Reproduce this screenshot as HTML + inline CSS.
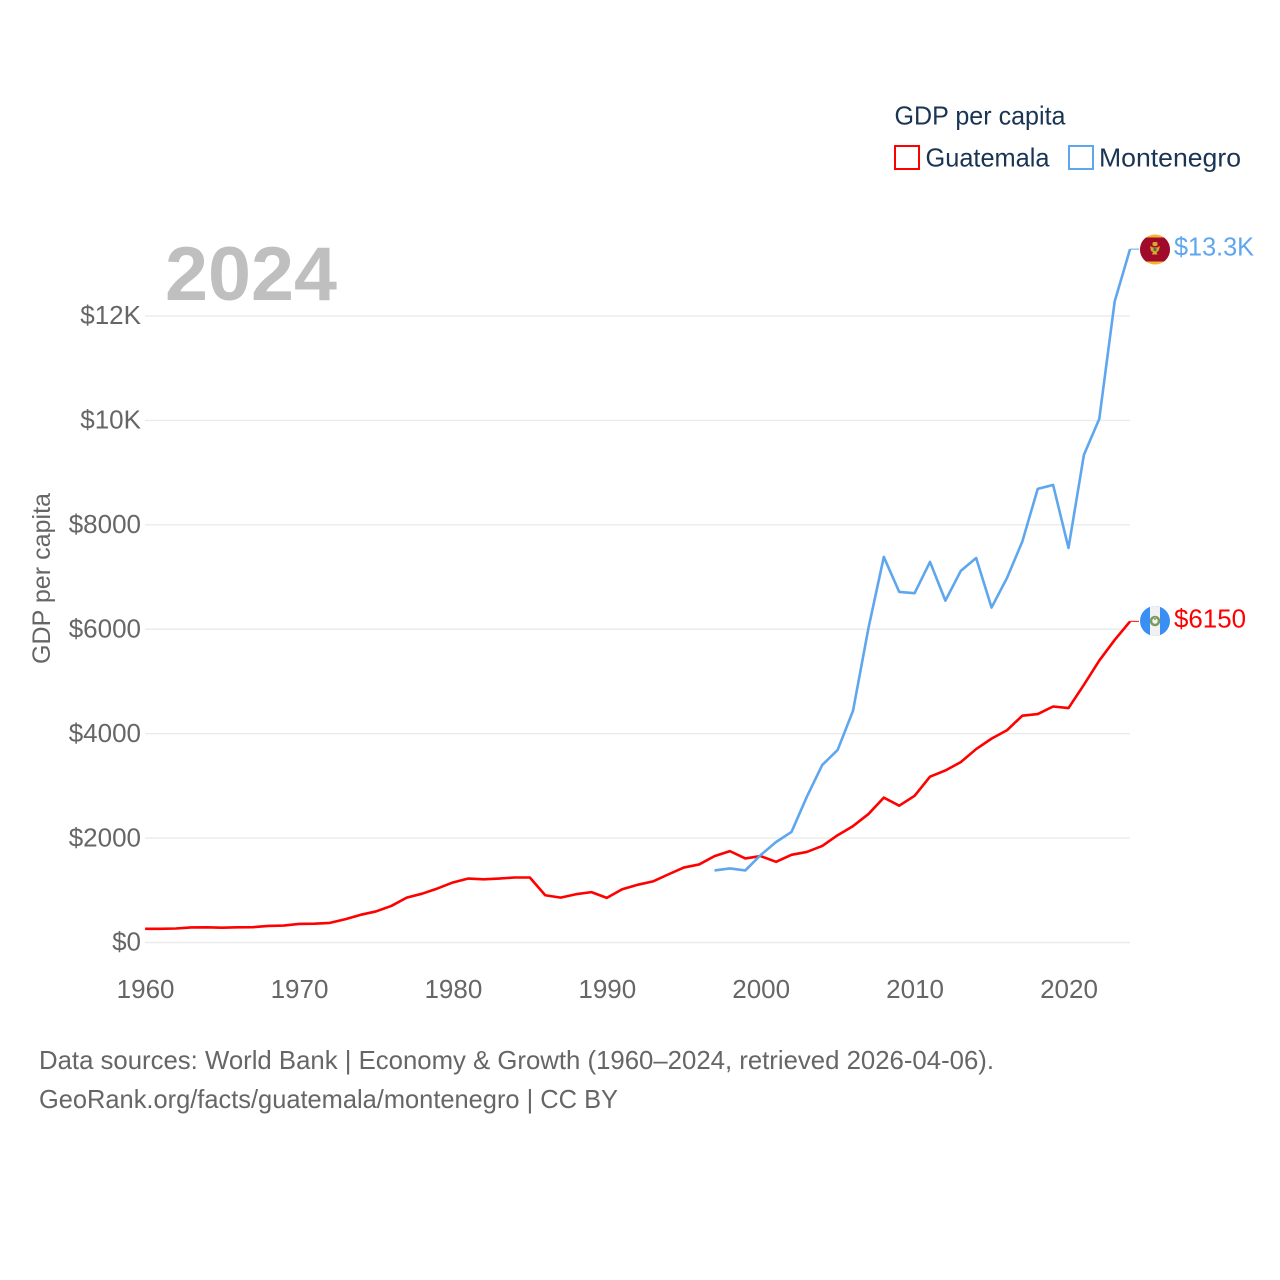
<!DOCTYPE html>
<html lang="en">
<head>
<meta charset="utf-8">
<title>GDP per capita: Guatemala and Montenegro</title>
<style>
html,body{margin:0;padding:0;background:#fff;width:1280px;height:1280px;overflow:hidden}
svg{display:block}
text{font-family:"Liberation Sans",sans-serif}
</style>
</head>
<body>
<svg id="chart" xmlns="http://www.w3.org/2000/svg" width="1280" height="1280" viewBox="0 0 1280 1280">
  <defs>
    <clipPath id="clip-me"><circle cx="1155" cy="249.500" r="15"/></clipPath>
    <clipPath id="clip-gt"><circle cx="1155" cy="621" r="15"/></clipPath>
  </defs>
  <g id="grid"></g>
  <g id="yticks"></g>
  <g id="xticks"></g>
  <text x="165" y="300" font-size="76" font-weight="700" fill="#bfbfbf" textLength="172" lengthAdjust="spacingAndGlyphs">2024</text>
  <text transform="translate(50,664) rotate(-90)" font-size="25" fill="#666" textLength="171" lengthAdjust="spacingAndGlyphs">GDP per capita</text>
  <g id="series"></g>
  <g clip-path="url(#clip-me)">
    <rect x="1140" y="234" width="30" height="31" fill="#f2b632"/>
    <rect x="1140" y="237.500" width="30" height="24" fill="#a00a2b"/>
    <path d="M1150 246l3 1.500h4l3-1.500-1.500 5-2 1 1 2.500h-5.500l1-2.500-2-1z" fill="#d9a92f"/>
    <rect x="1152.500" y="242" width="5" height="4" rx="1.500" fill="#d9a92f"/>
    <rect x="1153.500" y="248" width="3" height="3" fill="#3f7a52"/>
  </g>
  <g clip-path="url(#clip-gt)">
    <rect x="1140" y="606" width="30" height="30" fill="#3a8ff5"/>
    <rect x="1150" y="606" width="10" height="30" fill="#f1f1f1"/>
    <circle cx="1155" cy="621" r="4" fill="none" stroke="#7a9a62" stroke-width="2.500"/>
    <rect x="1154" y="617" width="2" height="3" fill="#a8a878"/>
  </g>
  <g id="endlabels"></g>
  <g>
    <text x="894.500" y="124.500" font-size="26" fill="#1a3454" textLength="171" lengthAdjust="spacingAndGlyphs">GDP per capita</text>
    <g>
      <rect x="895" y="146" width="24" height="23" fill="#fff" stroke="#ff0000" stroke-width="2"/>
      <text x="925.500" y="166.500" font-size="26" fill="#1a3454" textLength="124" lengthAdjust="spacingAndGlyphs">Guatemala</text>
    </g>
    <g>
      <rect x="1069" y="146" width="24" height="23" fill="#fff" stroke="#5ea6ee" stroke-width="2"/>
      <text x="1099" y="166.500" font-size="26" fill="#1a3454" textLength="142" lengthAdjust="spacingAndGlyphs">Montenegro</text>
    </g>
  </g>
  <text x="39" y="1069" font-size="26" fill="#666" textLength="955" lengthAdjust="spacingAndGlyphs">Data sources: World Bank | Economy &amp; Growth (1960–2024, retrieved 2026-04-06).</text>
  <text x="39" y="1108" font-size="26" fill="#666" textLength="579" lengthAdjust="spacingAndGlyphs">GeoRank.org/facts/guatemala/montenegro | CC BY</text>
</svg>
<script>
const guatemalaYears = [1960,1961,1962,1963,1964,1965,1966,1967,1968,1969,1970,1971,1972,1973,1974,1975,1976,1977,1978,1979,1980,1981,1982,1983,1984,1985,1986,1987,1988,1989,1990,1991,1992,1993,1994,1995,1996,1997,1998,1999,2000,2001,2002,2003,2004,2005,2006,2007,2008,2009,2010,2011,2012,2013,2014,2015,2016,2017,2018,2019,2020,2021,2022,2023,2024];
const guatemalaValues = [262,263,268,289,290,284,291,293,317,325,356,361,375,445,530,595,700,860,935,1035,1150,1225,1210,1225,1245,1245,905,860,925,965,855,1020,1105,1170,1305,1435,1495,1655,1750,1610,1655,1545,1680,1735,1850,2055,2230,2460,2775,2620,2810,3175,3295,3455,3705,3905,4065,4345,4375,4520,4490,4935,5400,5795,6150];
const montenegroYears = [1997,1998,1999,2000,2001,2002,2003,2004,2005,2006,2007,2008,2009,2010,2011,2012,2013,2014,2015,2016,2017,2018,2019,2020,2021,2022,2023,2024];
const montenegroValues = [1380,1418,1380,1676,1925,2117,2793,3400,3688,4440,6020,7385,6715,6690,7290,6548,7117,7365,6415,6980,7680,8688,8764,7557,9340,10030,12277,13280];
const yTickValues = [0,2000,4000,6000,8000,10000,12000];
const yTickLabels = ["$0","$2000","$4000","$6000","$8000","$10K","$12K"];
const xTickValues = [1960,1970,1980,1990,2000,2010,2020];
const xTickLabels = ["1960","1970","1980","1990","2000","2010","2020"];
const guatemalaEndLabel = "$6150";
const montenegroEndLabel = "$13.3K";

const NS = "http://www.w3.org/2000/svg";
const xScale = function (year) { return 145.1 + (year - 1960) * 15.39; };
const yScale = function (value) { return 942.5 - value * 0.05221; };

function make(tag, parent, attrs, content) {
  const el = document.createElementNS(NS, tag);
  for (const k in attrs) { el.setAttribute(k, attrs[k]); }
  if (content !== undefined) { el.textContent = content; }
  parent.appendChild(el);
  return el;
}

const gridGroup = document.getElementById("grid");
const yGroup = document.getElementById("yticks");
const xGroup = document.getElementById("xticks");
const seriesGroup = document.getElementById("series");
const endGroup = document.getElementById("endlabels");

yTickValues.forEach(function (v, i) {
  const gridLine = make("line", gridGroup, {x1: 145, x2: 1130, y1: yScale(v), y2: yScale(v), stroke: "#ebebeb", "stroke-width": 1.4});
  
  
  const yLabel = make("text", yGroup, {x: 141, y: yScale(v) + 8.2, "text-anchor": "end", "font-size": 26, fill: "#666"}, yTickLabels[i]);
  
  
});

xTickValues.forEach(function (v, i) {
  const xLabel = make("text", xGroup, {x: 145.6 + (v - 1960) * 15.39, y: 998, "text-anchor": "middle", "font-size": 26, fill: "#666"}, xTickLabels[i]);
  
  
});

function pathFor(years, values) {
  return years.map(function (y, i) {
    return (i ? "L" : "M") + xScale(y).toFixed(2) + " " + yScale(values[i]).toFixed(2);
  }).join("");
}

const lastG = guatemalaValues[guatemalaValues.length - 1];
const lastM = montenegroValues[montenegroValues.length - 1];

const connectorG = make("line", seriesGroup, {x1: xScale(2024), x2: 1139, y1: yScale(lastG), y2: yScale(lastG), stroke: "#ff0000", "stroke-width": 1.2, opacity: 0.8});


const connectorM = make("line", seriesGroup, {x1: xScale(2024), x2: 1139, y1: yScale(lastM), y2: yScale(lastM), stroke: "#5ea6ee", "stroke-width": 1.2, opacity: 0.8});



const lineG = make("path", seriesGroup, {d: pathFor(guatemalaYears, guatemalaValues), fill: "none", stroke: "#ff0000", "stroke-width": 2.6, "stroke-linejoin": "round"});


const lineM = make("path", seriesGroup, {d: pathFor(montenegroYears, montenegroValues), fill: "none", stroke: "#5ea6ee", "stroke-width": 2.6, "stroke-linejoin": "round"});



const endG = make("text", endGroup, {x: 1174, y: yScale(lastG) + 6.2, "font-size": 26, fill: "#ff0000", textLength: 72, lengthAdjust: "spacingAndGlyphs"}, guatemalaEndLabel);


const endM = make("text", endGroup, {x: 1174, y: yScale(lastM) + 6.5, "font-size": 26, fill: "#5ea6ee", textLength: 80, lengthAdjust: "spacingAndGlyphs"}, montenegroEndLabel);


</script>
</body>
</html>
